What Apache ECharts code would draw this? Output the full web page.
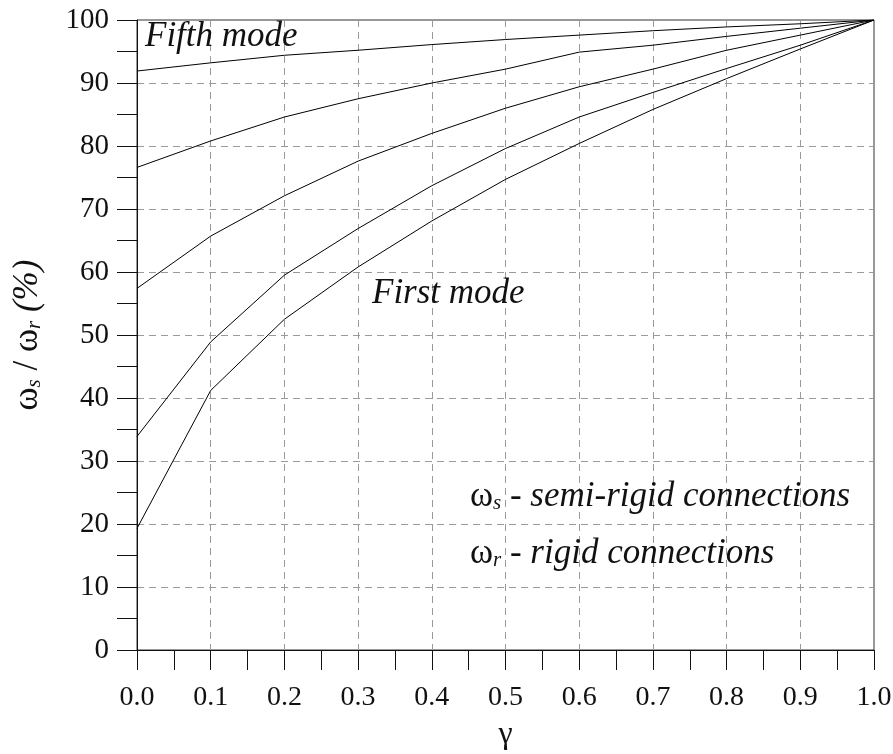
<!DOCTYPE html>
<html>
<head>
<meta charset="utf-8">
<script src="https://cdn.jsdelivr.net/npm/echarts@6/dist/echarts.min.js"></script>
<style>
  html, body { margin: 0; padding: 0; background: #fff; }
  #chart { width: 893px; height: 754px; }
</style>
</head>
<body>
<div id="chart"></div>
<script>
// Stiffness ratio gamma
const gamma = [0.0, 0.1, 0.2, 0.3, 0.4, 0.5, 0.6, 0.7, 0.8, 0.9, 1.0];

// Frequency ratio omega_s / omega_r (%) for modes 1..5
const mode1 = [19.3, 41.2, 52.5, 60.8, 68.1, 74.7, 80.4, 85.8, 90.7, 95.4, 100];
const mode2 = [33.9, 48.9, 59.5, 66.9, 73.7, 79.6, 84.6, 88.5, 92.3, 96.0, 100];
const mode3 = [57.4, 65.7, 72.1, 77.6, 82.0, 86.0, 89.4, 92.2, 95.2, 97.6, 100];
const mode4 = [76.6, 80.8, 84.6, 87.5, 90.0, 92.2, 94.9, 96.0, 97.4, 98.7, 100];
const mode5 = [91.9, 93.2, 94.4, 95.2, 96.1, 96.9, 97.6, 98.3, 98.9, 99.4, 100];

const modeNames = ['Mode 1', 'Mode 2', 'Mode 3', 'Mode 4', 'Mode 5'];
const modes = [mode1, mode2, mode3, mode4, mode5];

const serif = '"Liberation Serif", "DejaVu Serif", serif';
const ink = '#111';

const chart = echarts.init(document.getElementById('chart'), null, { renderer: 'canvas' });

const gridLine = { show: true, lineStyle: { color: '#9a9a9a', type: [7, 5], width: 1 }, showMinLine: false, showMaxLine: false };

// rich styles shared by the omega labels
const omegaRich = {
  w: { fontFamily: serif, fontSize: 35, fill: ink, color: ink },
  s: { fontFamily: serif, fontSize: 21, fontStyle: 'italic', fill: ink, color: ink, padding: [14, 0, 0, 0] },
  t: { fontFamily: serif, fontSize: 35, fontStyle: 'italic', fill: ink, color: ink }
};

chart.setOption({
  animation: false,
  backgroundColor: '#fff',
  grid: {
    left: 137, right: 19, top: 20, bottom: 104,
    containLabel: false, outerBoundsMode: 'none',
    show: true, borderColor: '#333', borderWidth: 1, backgroundColor: 'transparent'
  },
  xAxis: {
    type: 'value', min: 0, max: 1, interval: 0.1,
    name: 'γ', nameLocation: 'middle', nameGap: 69,
    nameTextStyle: { fontFamily: serif, fontSize: 32, color: ink },
    axisLine: { show: true, onZero: false, lineStyle: { color: '#111', width: 1 } },
    axisTick: { show: true, length: 20, lineStyle: { color: '#111' } },
    minorTick: { show: true, splitNumber: 2, length: 20, lineStyle: { color: '#111' } },
    axisLabel: { fontFamily: serif, fontSize: 28, color: ink, margin: 34, formatter: v => v.toFixed(1) },
    splitLine: gridLine
  },
  yAxis: {
    type: 'value', min: 0, max: 100, interval: 10,
    name: '{w|ω}{s|s}{w| / ω}{s|r}{t| (%)}', nameLocation: 'middle', nameGap: 92, nameRotate: 90,
    nameTextStyle: { fontFamily: serif, fontSize: 35, color: ink, rich: omegaRich },
    axisLine: { show: true, onZero: false, lineStyle: { color: '#111', width: 1 } },
    axisTick: { show: true, length: 20, lineStyle: { color: '#111' } },
    minorTick: { show: true, splitNumber: 2, length: 20, lineStyle: { color: '#111' } },
    axisLabel: { fontFamily: serif, fontSize: 29, color: ink, margin: 28 },
    splitLine: gridLine
  },
  series: modes.map((m, k) => ({
    name: modeNames[k],
    type: 'line',
    data: gamma.map((g, i) => [g, m[i]]),
    symbol: 'none',
    lineStyle: { color: '#000', width: 1 },
    z: 5
  })),
  graphic: [
    {
      type: 'text', left: 145, top: 19, z: 10,
      style: { text: 'Fifth mode', font: 'italic 35px ' + serif, fill: ink }
    },
    {
      type: 'text', left: 372, top: 276, z: 10,
      style: { text: 'First mode', font: 'italic 35px ' + serif, fill: ink }
    },
    {
      type: 'text', left: 470, top: 479, z: 10,
      style: { text: '{w|ω}{s|s}{w| - }{t|semi-rigid connections}', rich: omegaRich }
    },
    {
      type: 'text', left: 470, top: 536, z: 10,
      style: { text: '{w|ω}{s|r}{w| - }{t|rigid connections}', rich: omegaRich }
    }
  ]
});
</script>
</body>
</html>
